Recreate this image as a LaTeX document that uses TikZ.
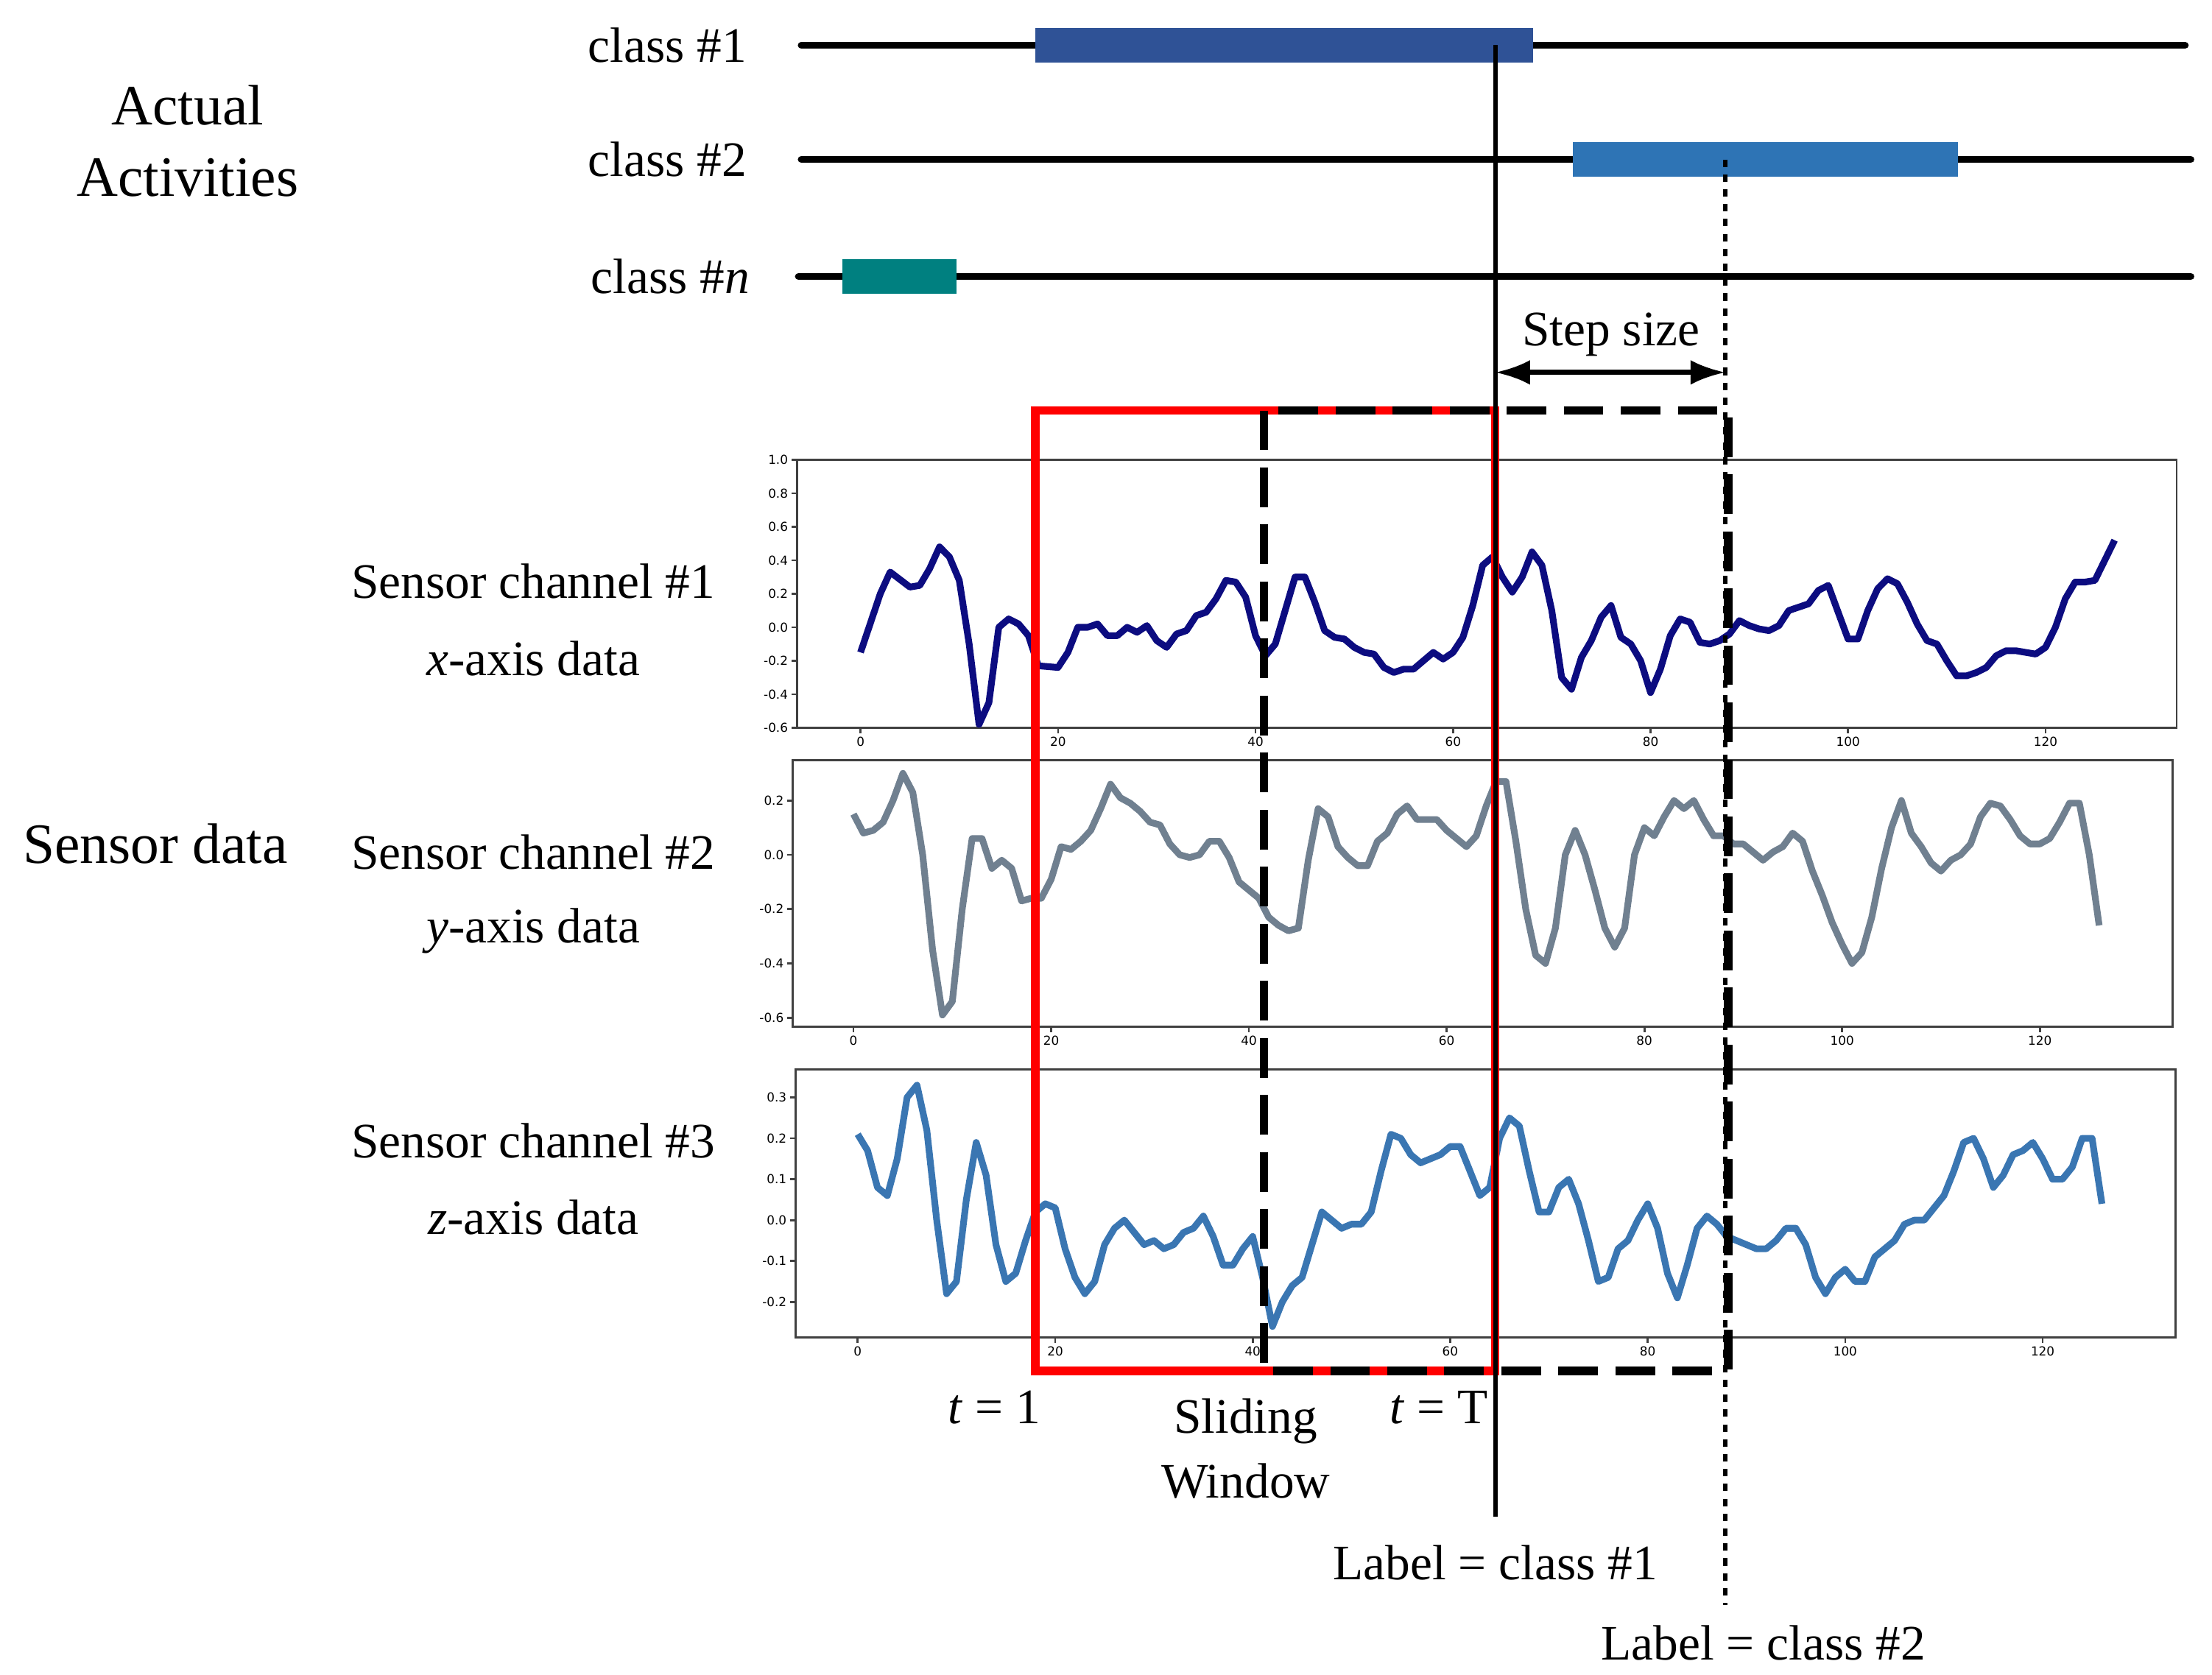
\documentclass[tikz,border=0pt]{standalone}
\usepackage{fontspec}
\setmainfont{Liberation Serif}
\newfontfamily\tkf{DejaVu Sans}
\usetikzlibrary{arrows.meta}
\definecolor{cA}{HTML}{2F5296}
\definecolor{cB}{HTML}{2E74B5}
\definecolor{cN}{HTML}{008080}
\definecolor{sA}{HTML}{0C0C80}
\definecolor{sB}{HTML}{708090}
\definecolor{sC}{HTML}{3A76B2}
\tikzset{
 lbl/.style={font=\fontsize{10}{12}\selectfont, inner sep=0pt},
 big/.style={font=\fontsize{11.5}{14.5}\selectfont, inner sep=0pt, align=center},
 tk/.style={font=\tkf\fontsize{2.5}{3}\selectfont, inner sep=0.5pt},
 cline/.style={line width=1.4pt, line cap=round},
 bar/.style={line width=7pt},
 box/.style={draw=black!75, line width=0.4pt},
 ser/.style={line width=1.35pt, line join=round},
}
\begin{document}
\begin{tikzpicture}[x=0.01cm,y=-0.01cm]
\useasboundingbox (0,0) rectangle (1568,1187);
% activity lines
\node[big] (act) at (133,100) {Actual\\Activities};
\node[lbl,anchor=east] (c1) at (530,32) {class \#1};
\node[lbl,anchor=east] (c2) at (530,113) {class \#2};
\node[lbl,anchor=east] (cn) at (532,196) {class \#\textit{n}};
\coordinate (l1a) at (568,32); \coordinate (l1b) at (1549,32);
\coordinate (l2a) at (568,113); \coordinate (l2b) at (1553,113);
\coordinate (lna) at (566,196); \coordinate (lnb) at (1553,196);
\draw[cline] (l1a) -- (l1b);
\draw[cline] (l2a) -- (l2b);
\draw[cline] (lna) -- (lnb);
\coordinate (b1a) at (734,32); \coordinate (b1b) at (1087,32);
\coordinate (b2a) at (1115,113); \coordinate (b2b) at (1388,113);
\coordinate (bna) at (597,196); \coordinate (bnb) at (678,196);
\draw[bar,cA] (b1a) -- (b1b);
\draw[bar,cB] (b2a) -- (b2b);
\draw[bar,cN] (bna) -- (bnb);
% plot 1
\draw[box] (565,326) rectangle (1543,516);
\foreach \v/\s in {1.0/1.0,0.8/0.8,0.6/0.6,0.4/0.4,0.2/0.2,0.0/0.0,-0.2/-0.2,-0.4/-0.4,-0.6/-0.6}{
  \pgfmathsetmacro\yy{444.7-118.75*\v}
  \draw[box] (565,\yy) -- (561,\yy);
  \node[tk,anchor=east] at (561,\yy) {\s};}
\foreach \t in {0,20,...,120}{
  \pgfmathsetmacro\xx{610+7*\t}
  \draw[box] (\xx,516) -- (\xx,520);
  \node[tk,anchor=north] at (\xx,520) {\t};}
\begin{scope}[shift={(610,444.7)},xscale=7,yscale=-118.75]
\draw[ser,sA] plot coordinates {(0,-0.15)(2,0.2)(3,0.33)(5,0.24)(6,0.25)(7,0.35)(8,0.48)(9,0.42)(10,0.28)(11,-0.1)(12,-0.58)(13,-0.45)(14,0.0)(15,0.05)(16,0.02)(17,-0.05)(18,-0.23)(20,-0.24)(21,-0.15)(22,0.0)(23,0.0)(24,0.02)(25,-0.05)(26,-0.05)(27,0.0)(28,-0.03)(29,0.01)(30,-0.08)(31,-0.12)(32,-0.04)(33,-0.02)(34,0.07)(35,0.09)(36,0.17)(37,0.28)(38,0.27)(39,0.18)(40,-0.05)(41,-0.17)(42,-0.1)(43,0.1)(44,0.3)(45,0.3)(46,0.15)(47,-0.02)(48,-0.06)(49,-0.07)(50,-0.12)(51,-0.15)(52,-0.16)(53,-0.24)(54,-0.27)(55,-0.25)(56,-0.25)(57,-0.2)(58,-0.15)(59,-0.19)(60,-0.15)(61,-0.06)(62,0.13)(63,0.37)(64,0.42)(65,0.3)(66,0.21)(67,0.3)(68,0.45)(69,0.37)(70,0.1)(71,-0.3)(72,-0.37)(73,-0.18)(74,-0.08)(75,0.06)(76,0.13)(77,-0.06)(78,-0.1)(79,-0.2)(80,-0.39)(81,-0.25)(82,-0.05)(83,0.05)(84,0.03)(85,-0.09)(86,-0.1)(87,-0.08)(88,-0.04)(89,0.04)(90,0.01)(91,-0.01)(92,-0.02)(93,0.01)(94,0.1)(95,0.12)(96,0.14)(97,0.22)(98,0.25)(99,0.09)(100,-0.07)(101,-0.07)(102,0.1)(103,0.23)(104,0.29)(105,0.26)(106,0.15)(107,0.02)(108,-0.08)(109,-0.1)(110,-0.2)(111,-0.29)(112,-0.29)(113,-0.27)(114,-0.24)(115,-0.17)(116,-0.14)(117,-0.14)(118,-0.15)(119,-0.16)(120,-0.12)(121,0.0)(122,0.17)(123,0.27)(124,0.27)(125,0.28)(126,0.4)(127,0.52)};
\end{scope}
% plot 2
\draw[box] (562,539) rectangle (1540,728);
\foreach \v/\s in {0.2/0.2,0.0/0.0,-0.2/-0.2,-0.4/-0.4,-0.6/-0.6}{
  \pgfmathsetmacro\yy{606-192.5*\v}
  \draw[box] (562,\yy) -- (558,\yy);
  \node[tk,anchor=east] at (558,\yy) {\s};}
\foreach \t in {0,20,...,120}{
  \pgfmathsetmacro\xx{605+7.008*\t}
  \draw[box] (\xx,728) -- (\xx,732);
  \node[tk,anchor=north] at (\xx,732) {\t};}
\begin{scope}[shift={(605,606)},xscale=7.008,yscale=-192.5]
\draw[ser,sB] plot coordinates {(0,0.15)(1,0.08)(2,0.09)(3,0.12)(4,0.2)(5,0.3)(6,0.23)(7,0.0)(8,-0.35)(9,-0.59)(10,-0.54)(11,-0.2)(12,0.06)(13,0.06)(14,-0.05)(15,-0.02)(16,-0.05)(17,-0.17)(18,-0.16)(19,-0.16)(20,-0.09)(21,0.03)(22,0.02)(23,0.05)(24,0.09)(25,0.17)(26,0.26)(27,0.21)(28,0.19)(29,0.16)(30,0.12)(31,0.11)(32,0.04)(33,0.0)(34,-0.01)(35,0.0)(36,0.05)(37,0.05)(38,-0.01)(39,-0.1)(40,-0.13)(41,-0.16)(42,-0.23)(43,-0.26)(44,-0.28)(45,-0.27)(46,-0.02)(47,0.17)(48,0.14)(49,0.03)(50,-0.01)(51,-0.04)(52,-0.04)(53,0.05)(54,0.08)(55,0.15)(56,0.18)(57,0.13)(58,0.13)(59,0.13)(60,0.09)(61,0.06)(62,0.03)(63,0.07)(64,0.18)(65,0.27)(66,0.27)(67,0.05)(68,-0.2)(69,-0.37)(70,-0.4)(71,-0.27)(72,0.0)(73,0.09)(74,0.0)(75,-0.13)(76,-0.27)(77,-0.34)(78,-0.27)(79,0.0)(80,0.1)(81,0.07)(82,0.14)(83,0.2)(84,0.17)(85,0.2)(86,0.13)(87,0.07)(88,0.07)(89,0.04)(90,0.04)(91,0.01)(92,-0.02)(93,0.01)(94,0.03)(95,0.08)(96,0.05)(97,-0.06)(98,-0.15)(99,-0.25)(100,-0.33)(101,-0.4)(102,-0.36)(103,-0.23)(104,-0.05)(105,0.1)(106,0.2)(107,0.08)(108,0.03)(109,-0.03)(110,-0.06)(111,-0.02)(112,0.0)(113,0.04)(114,0.14)(115,0.19)(116,0.18)(117,0.13)(118,0.07)(119,0.04)(120,0.04)(121,0.06)(122,0.12)(123,0.19)(124,0.19)(125,0.0)(126,-0.26)};
\end{scope}
% plot 3
\draw[box] (564,758) rectangle (1542,948);
\foreach \v/\s in {0.3/0.3,0.2/0.2,0.1/0.1,0.0/0.0,-0.1/-0.1,-0.2/-0.2}{
  \pgfmathsetmacro\yy{865-290*\v}
  \draw[box] (564,\yy) -- (560,\yy);
  \node[tk,anchor=east] at (560,\yy) {\s};}
\foreach \t in {0,20,...,120}{
  \pgfmathsetmacro\xx{608+7*\t}
  \draw[box] (\xx,948) -- (\xx,952);
  \node[tk,anchor=north] at (\xx,952) {\t};}
\begin{scope}[shift={(608,865)},xscale=7,yscale=-290]
\draw[ser,sC] plot coordinates {(0,0.21)(1,0.17)(2,0.08)(3,0.06)(4,0.15)(5,0.3)(6,0.33)(7,0.22)(8,0.0)(9,-0.18)(10,-0.15)(11,0.05)(12,0.19)(13,0.11)(14,-0.06)(15,-0.15)(16,-0.13)(17,-0.05)(18,0.02)(19,0.04)(20,0.03)(21,-0.07)(22,-0.14)(23,-0.18)(24,-0.15)(25,-0.06)(26,-0.02)(27,0.0)(28,-0.03)(29,-0.06)(30,-0.05)(31,-0.07)(32,-0.06)(33,-0.03)(34,-0.02)(35,0.01)(36,-0.04)(37,-0.11)(38,-0.11)(39,-0.07)(40,-0.04)(41,-0.14)(42,-0.26)(43,-0.2)(44,-0.16)(45,-0.14)(46,-0.06)(47,0.02)(48,0.0)(49,-0.02)(50,-0.01)(51,-0.01)(52,0.02)(53,0.12)(54,0.21)(55,0.2)(56,0.16)(57,0.14)(58,0.15)(59,0.16)(60,0.18)(61,0.18)(62,0.12)(63,0.06)(64,0.08)(65,0.2)(66,0.25)(67,0.23)(68,0.12)(69,0.02)(70,0.02)(71,0.08)(72,0.1)(73,0.04)(74,-0.05)(75,-0.15)(76,-0.14)(77,-0.07)(78,-0.05)(79,0.0)(80,0.04)(81,-0.02)(82,-0.13)(83,-0.19)(84,-0.11)(85,-0.02)(86,0.01)(87,-0.01)(88,-0.04)(89,-0.05)(90,-0.06)(91,-0.07)(92,-0.07)(93,-0.05)(94,-0.02)(95,-0.02)(96,-0.06)(97,-0.14)(98,-0.18)(99,-0.14)(100,-0.12)(101,-0.15)(102,-0.15)(103,-0.09)(104,-0.07)(105,-0.05)(106,-0.01)(107,0.0)(108,0.0)(109,0.03)(110,0.06)(111,0.12)(112,0.19)(113,0.2)(114,0.15)(115,0.08)(116,0.11)(117,0.16)(118,0.17)(119,0.19)(120,0.15)(121,0.1)(122,0.1)(123,0.13)(124,0.2)(125,0.2)(126,0.04)};
\end{scope}
% sensor labels
\node[big] (sd) at (110,598) {Sensor data};
\node[lbl] (s1) at (378,412) {Sensor channel \#1};
\node[lbl] (x1) at (378,467) {\textit{x}-axis data};
\node[lbl] (s2) at (378,604) {Sensor channel \#2};
\node[lbl] (y2) at (378,660) {\textit{y}-axis data};
\node[lbl] (s3) at (378,809) {Sensor channel \#3};
\node[lbl] (z3) at (378,863) {\textit{z}-axis data};
% windows
\draw[red,line width=1.7pt] (734,291) rectangle (1060,972);
\draw[black,line width=1.7pt,dash pattern=on 8pt off 3.5pt] (896,291) rectangle (1225,972);
% vertical label lines
\coordinate (v1t) at (1060,32); \coordinate (v1b) at (1060,1075);
\coordinate (v2t) at (1223,113); \coordinate (v2b) at (1223,1138);
\draw[line width=0.9pt] (v1t) -- (v1b);
\draw[line width=0.8pt,dash pattern=on 1.5pt off 1.5pt] (v2t) -- (v2b);
% step size
\coordinate (sa) at (1060,264); \coordinate (sb) at (1223,264);
\draw[line width=1pt,{Latex[length=7pt,width=5pt]}-{Latex[length=7pt,width=5pt]}] (sa) -- (sb);
\node[lbl] (st) at (1142,237) {Step size};
% bottom texts
\node[lbl] (t1) at (705,998) {\textit{t} = 1};
\node[lbl,align=center] (sw) at (883,1027) {Sliding\\[1pt]Window};
\node[lbl] (tT) at (1020,998) {\textit{t} = T};
\node[lbl] (L1) at (1060,1108) {Label = class \#1};
\node[lbl] (L2) at (1250,1165) {Label = class \#2};
\end{tikzpicture}
\end{document}
